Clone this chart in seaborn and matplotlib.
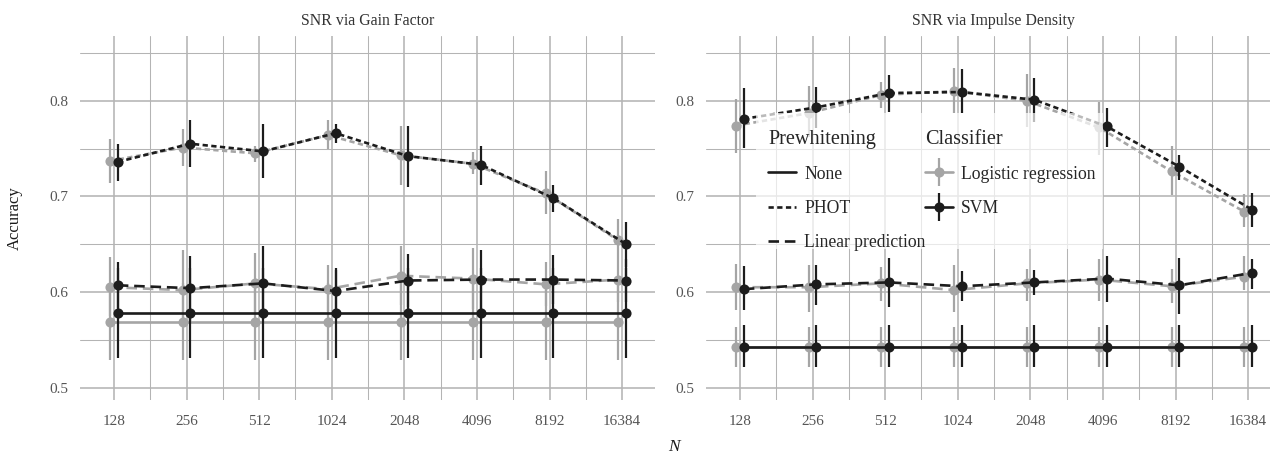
import matplotlib
matplotlib.use("Agg")
import matplotlib.pyplot as plt
from matplotlib.lines import Line2D
from matplotlib.patches import Rectangle
from matplotlib.legend_handler import HandlerTuple
import numpy as np
import pandas as pd
import seaborn as sns

# ---- data ----
n_labels = ["128", "256", "512", "1024", "2048", "4096", "8192", "16384"]
panels = ["SNR via Gain Factor", "SNR via Impulse Density"]
classifiers = ["Logistic regression", "SVM"]
prewhitening = ["None", "PHOT", "Linear prediction"]

# Gain factor panel
gain_none_lr = [0.569] * 8
gain_none_lr_lo = [0.529] * 8
gain_none_lr_hi = [0.609] * 8
gain_none_svm = [0.578] * 8
gain_none_svm_lo = [0.531] * 8
gain_none_svm_hi = [0.625] * 8

gain_phot_lr = [0.737, 0.751, 0.745, 0.764, 0.743, 0.734, 0.703, 0.654]
gain_phot_lr_lo = [0.714, 0.732, 0.736, 0.749, 0.712, 0.723, 0.682, 0.636]
gain_phot_lr_hi = [0.760, 0.770, 0.753, 0.780, 0.773, 0.746, 0.726, 0.676]
gain_phot_svm = [0.736, 0.755, 0.747, 0.766, 0.742, 0.733, 0.698, 0.650]
gain_phot_svm_lo = [0.716, 0.731, 0.719, 0.756, 0.710, 0.712, 0.684, 0.626]
gain_phot_svm_hi = [0.755, 0.780, 0.776, 0.776, 0.773, 0.753, 0.712, 0.673]

gain_lin_lr = [0.605, 0.602, 0.609, 0.603, 0.617, 0.614, 0.608, 0.613]
gain_lin_lr_lo = [0.575, 0.565, 0.578, 0.580, 0.586, 0.582, 0.585, 0.590]
gain_lin_lr_hi = [0.637, 0.644, 0.641, 0.628, 0.648, 0.646, 0.631, 0.636]
gain_lin_svm = [0.607, 0.604, 0.609, 0.601, 0.612, 0.613, 0.613, 0.612]
gain_lin_svm_lo = [0.583, 0.570, 0.572, 0.580, 0.584, 0.582, 0.587, 0.590]
gain_lin_svm_hi = [0.631, 0.638, 0.648, 0.623, 0.640, 0.644, 0.639, 0.634]

# Impulse density panel
imp_none_lr = [0.543] * 8
imp_none_lr_lo = [0.522] * 8
imp_none_lr_hi = [0.563] * 8
imp_none_svm = [0.543] * 8
imp_none_svm_lo = [0.522] * 8
imp_none_svm_hi = [0.566] * 8

imp_phot_lr = [0.774, 0.787, 0.806, 0.810, 0.800, 0.772, 0.726, 0.684]
imp_phot_lr_lo = [0.745, 0.762, 0.792, 0.787, 0.772, 0.743, 0.701, 0.668]
imp_phot_lr_hi = [0.802, 0.815, 0.819, 0.834, 0.828, 0.799, 0.753, 0.702]
imp_phot_svm = [0.781, 0.793, 0.808, 0.809, 0.801, 0.773, 0.731, 0.686]
imp_phot_svm_lo = [0.751, 0.771, 0.788, 0.787, 0.778, 0.752, 0.717, 0.668]
imp_phot_svm_hi = [0.813, 0.814, 0.827, 0.833, 0.824, 0.792, 0.743, 0.703]

imp_lin_lr = [0.605, 0.605, 0.609, 0.602, 0.609, 0.613, 0.606, 0.616]
imp_lin_lr_lo = [0.581, 0.579, 0.591, 0.579, 0.591, 0.591, 0.588, 0.602]
imp_lin_lr_hi = [0.629, 0.628, 0.626, 0.628, 0.624, 0.634, 0.624, 0.638]
imp_lin_svm = [0.603, 0.608, 0.610, 0.606, 0.610, 0.614, 0.607, 0.620]
imp_lin_svm_lo = [0.581, 0.586, 0.584, 0.591, 0.597, 0.590, 0.577, 0.603]
imp_lin_svm_hi = [0.627, 0.628, 0.636, 0.622, 0.623, 0.638, 0.636, 0.634]

series = {
    (panels[0], "None", "Logistic regression"): (gain_none_lr, gain_none_lr_lo, gain_none_lr_hi),
    (panels[0], "None", "SVM"): (gain_none_svm, gain_none_svm_lo, gain_none_svm_hi),
    (panels[0], "PHOT", "Logistic regression"): (gain_phot_lr, gain_phot_lr_lo, gain_phot_lr_hi),
    (panels[0], "PHOT", "SVM"): (gain_phot_svm, gain_phot_svm_lo, gain_phot_svm_hi),
    (panels[0], "Linear prediction", "Logistic regression"): (gain_lin_lr, gain_lin_lr_lo, gain_lin_lr_hi),
    (panels[0], "Linear prediction", "SVM"): (gain_lin_svm, gain_lin_svm_lo, gain_lin_svm_hi),
    (panels[1], "None", "Logistic regression"): (imp_none_lr, imp_none_lr_lo, imp_none_lr_hi),
    (panels[1], "None", "SVM"): (imp_none_svm, imp_none_svm_lo, imp_none_svm_hi),
    (panels[1], "PHOT", "Logistic regression"): (imp_phot_lr, imp_phot_lr_lo, imp_phot_lr_hi),
    (panels[1], "PHOT", "SVM"): (imp_phot_svm, imp_phot_svm_lo, imp_phot_svm_hi),
    (panels[1], "Linear prediction", "Logistic regression"): (imp_lin_lr, imp_lin_lr_lo, imp_lin_lr_hi),
    (panels[1], "Linear prediction", "SVM"): (imp_lin_svm, imp_lin_svm_lo, imp_lin_svm_hi),
}

rows = []
for (panel, pw, clf), (acc, lo, hi) in series.items():
    for i, n in enumerate(n_labels):
        rows.append(dict(panel=panel, prewhitening=pw, classifier=clf,
                         N=n, pos=i, acc=acc[i], lo=lo[i], hi=hi[i]))
df = pd.DataFrame(rows)

# ---- styling ----
colors = {"Logistic regression": "#a5a5a5", "SVM": "#1c1c1c"}
dodge = {"Logistic regression": -0.053, "SVM": 0.053}
dash_map = {"None": "", "PHOT": (2, 1.3), "Linear prediction": (4, 2.2)}
marker_map = {k: "o" for k in prewhitening}
grid_col = "#b4b4b4"
tick_col = "#555555"
msize = 7.3

sns.set_theme(style="white")
plt.rcParams["font.family"] = ["Liberation Serif", "DejaVu Serif"]

W, H = 1270, 458
fig = plt.figure(figsize=(W / 100, H / 100), dpi=100)

def px_axes(x0, y0, x1, y1):
    return fig.add_axes([x0 / W, 1 - y1 / H, (x1 - x0) / W, (y1 - y0) / H])

axes = [px_axes(80, 36, 655, 400), px_axes(706, 36, 1281, 400)]

df["x"] = df["pos"] + df["classifier"].map(dodge)

for ax, panel in zip(axes, panels):
    sub = df[df.panel == panel]
    for clf in classifiers:
        s = sub[sub.classifier == clf]
        ax.vlines(s["x"], s["lo"], s["hi"], color=colors[clf], lw=1.6, zorder=3)
        sns.lineplot(data=s, x="x", y="acc", style="prewhitening",
                     style_order=prewhitening, dashes=dash_map, markers=marker_map,
                     color=colors[clf], lw=1.9, markersize=msize, markeredgewidth=0,
                     estimator=None, sort=True, legend=False, ax=ax, zorder=3)

    ax.set_xlim(-0.468, 7.452)
    ax.set_ylim(0.4871, 0.8676)
    ax.set_xticks(range(len(n_labels)))
    ax.set_xticklabels(n_labels)
    ax.set_xticks(np.arange(0.5, 7, 1), minor=True)
    ax.set_yticks([0.5, 0.6, 0.7, 0.8])
    ax.set_yticklabels(["0.5", "0.6", "0.7", "0.8"])
    ax.set_yticks([0.55, 0.65, 0.75, 0.85], minor=True)
    ax.grid(which="major", color=grid_col, lw=1.15, zorder=0)
    ax.grid(which="minor", color=grid_col, lw=0.75, zorder=0)
    ax.set_axisbelow(True)
    for sp in ax.spines.values():
        sp.set_visible(False)
    ax.tick_params(which="both", length=0)
    ax.tick_params(axis="x", pad=11, labelsize=11, labelcolor=tick_col)
    ax.tick_params(axis="y", pad=8.5, labelsize=11, labelcolor=tick_col)
    ax.set_xlabel("")
    ax.set_ylabel("")
    ax.set_title(panel, fontsize=11.4, color="#333333", pad=8)

fig.text(15 / W, 1 - 218 / H, "Accuracy", rotation=90, ha="center", va="center",
         fontsize=12, color="#1a1a1a")
fig.text(674 / W, 1 - 447 / H, "N", style="italic", ha="center", va="center",
         fontsize=12.5, color="#1a1a1a")

# ---- legend ----
rax = axes[1]
rax.add_patch(Rectangle((756 / W, 1 - 249 / H), (1103 - 756) / W, (249 - 113) / H,
                        transform=fig.transFigure, facecolor="white", alpha=0.7,
                        edgecolor="none", zorder=4))

pw_handles = [Line2D([], [], color="#1c1c1c", lw=1.9, linestyle="-"),
              Line2D([], [], color="#1c1c1c", lw=1.9, dashes=dash_map["PHOT"]),
              Line2D([], [], color="#1c1c1c", lw=1.9, dashes=dash_map["Linear prediction"])]
clf_handles = [(Line2D([], [], color=colors[c], lw=1.9, marker="o", markersize=msize, markeredgewidth=0),
                Line2D([], [], color=colors[c], lw=0, marker="|", markersize=20, markeredgewidth=1.6))
               for c in classifiers]

leg_kw = dict(frameon=False, borderpad=0, borderaxespad=0, handlelength=1.6,
              handletextpad=0.45, labelspacing=0.98, fontsize=12.7,
              title_fontsize=14.6, alignment="left", loc="upper left",
              bbox_transform=fig.transFigure)
leg1 = rax.legend(pw_handles, prewhitening, title="Prewhitening",
                  bbox_to_anchor=(768 / W, 1 - 130 / H), **leg_kw)
rax.add_artist(leg1)
leg2 = rax.legend(clf_handles, classifiers, title="Classifier",
                  bbox_to_anchor=(925 / W, 1 - 130 / H),
                  handler_map={tuple: HandlerTuple(ndivide=1)}, **leg_kw)
for leg in (leg1, leg2):
    leg.set_zorder(5)
    leg._legend_box.sep = 12

fig.savefig("out.png", dpi=100)
